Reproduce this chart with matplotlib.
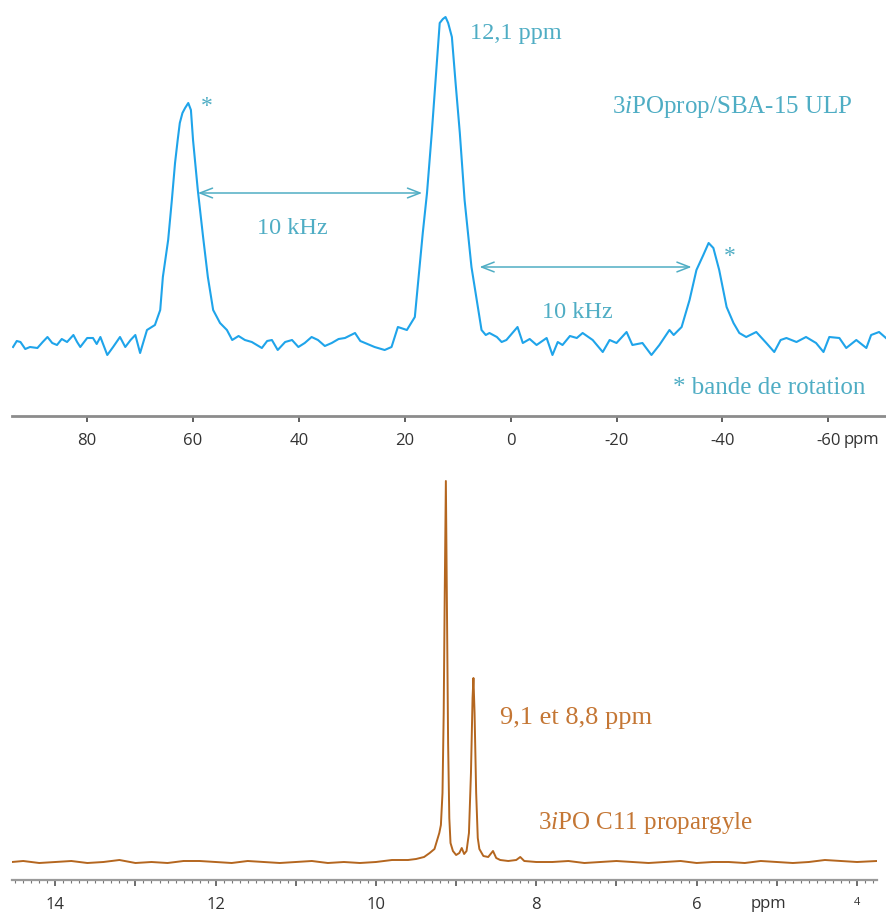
import matplotlib
matplotlib.use("Agg")
import matplotlib.pyplot as plt
from matplotlib.ticker import FixedLocator, MultipleLocator

# --- top spectrum (solid state 31P, 3iPOprop/SBA-15 ULP) ---
top_ppm = [94.0, 93.3, 92.6, 91.7, 90.8, 89.4, 88.4, 87.5, 86.6, 85.7, 84.8, 83.8,
           82.6, 81.9, 81.3, 80.0, 78.9, 78.2, 77.5, 76.2, 75.1, 73.8, 72.8, 71.8,
           70.9, 70.0, 68.7, 67.2, 66.2, 65.7, 64.7, 64.0, 63.4, 62.9, 62.5, 62.0,
           61.5, 60.9, 60.4, 60.0, 59.1, 58.1, 57.2, 56.2, 54.9, 53.6, 52.6, 51.4,
           50.2, 48.9, 47.0, 46.0, 45.1, 44.0, 42.6, 41.3, 40.1, 38.9, 37.6, 36.4,
           35.1, 33.8, 32.5, 31.3, 29.4, 28.4, 27.5, 25.7, 23.8, 22.5, 21.3, 19.6,
           18.1, 17.5, 16.6, 15.8, 14.9, 14.0, 13.4, 12.8, 12.3, 11.8, 11.1, 10.4,
           9.6, 8.7, 7.4, 6.4, 5.5, 4.7, 4.0, 2.6, 1.7, 0.8, -1.3, -2.3, -3.6,
           -4.9, -6.8, -7.9, -8.9, -9.8, -11.2, -12.5, -13.6, -15.5, -17.4, -18.7,
           -20.0, -21.9, -23.0, -24.9, -26.6, -28.1, -30.0, -30.8, -32.3, -33.8,
           -35.1, -36.4, -37.4, -38.3, -39.4, -40.8, -42.1, -43.2, -44.5, -46.4,
           -48.3, -49.8, -51.0, -52.1, -54.0, -55.8, -57.7, -59.1, -60.2, -62.1,
           -63.4, -65.3, -67.2, -68.1, -69.6, -70.9]
top_int = [-2, 4, 3, -4, -2, -3, 3, 8, 2, 0, 6, 3,
           10, 3, -2, 7, 7, 1, 8, -10, -2, 8, -2, 5,
           10, -8, 15, 20, 35, 68, 105, 145, 182, 205, 222, 232,
           237, 242, 235, 205, 155, 108, 68, 35, 22, 15, 5, 9,
           5, 3, -3, 4, 5, -5, 3, 5, -2, 2, 8, 5,
           -1, 2, 6, 7, 12, 4, 2, -2, -5, -2, 18, 15,
           28, 62, 112, 152, 212, 278, 322, 326, 328, 322, 308, 262,
           212, 145, 78, 45, 15, 10, 12, 8, 3, 5, 18, 2, 6,
           0, 7, -10, 3, 0, 9, 7, 12, 5, -7, 5,
           2, 13, 0, 2, -10, 0, 15, 10, 18, 45,
           75, 90, 102, 97, 75, 38, 22, 12, 8, 13,
           2, -7, 5, 7, 3, 8, 2, -7, 8, 7,
           -3, 5, -3, 10, 13, 7]
top_ticks = [80, 60, 40, 20, 0, -20, -40, -60]

# --- bottom spectrum (liquid 31P, 3iPO C11 propargyle) ---
bot_ppm = [14.54, 14.4, 14.2, 14.0, 13.8, 13.6, 13.4, 13.2, 13.0, 12.8, 12.6, 12.4,
           12.2, 12.0, 11.8, 11.6, 11.4, 11.2, 11.0, 10.8, 10.6, 10.4, 10.2, 10.0,
           9.8, 9.6, 9.5, 9.4, 9.33, 9.27, 9.24, 9.21, 9.19, 9.17, 9.155, 9.142,
           9.128, 9.115, 9.10, 9.085, 9.07, 9.04, 9.0, 8.96, 8.93, 8.90, 8.87,
           8.84, 8.815, 8.795, 8.784, 8.77, 8.75, 8.73, 8.71, 8.66, 8.6, 8.54,
           8.5, 8.45, 8.35, 8.25, 8.2, 8.15, 8.0, 7.8, 7.6, 7.4, 7.2, 7.0, 6.8,
           6.6, 6.4, 6.2, 6.0, 5.8, 5.6, 5.4, 5.2, 5.0, 4.8, 4.6, 4.4, 4.2, 4.0,
           3.75]
bot_int = [1, 2, 0, 1, 2, 0, 1, 3, 0, 1, 0, 2,
           2, 1, 0, 2, 1, 0, 1, 2, 0, 1, 0, 1,
           3, 3, 4, 6, 10, 14, 22, 30, 38, 70, 150, 270,
           382, 260, 120, 45, 20, 12, 8, 10, 15, 9, 12,
           30, 90, 165, 185, 150, 70, 25, 14, 7, 6, 12,
           5, 3, 2, 3, 6, 2, 1, 1, 2, 0, 1, 2, 1,
           0, 1, 2, 0, 1, 1, 0, 2, 1, 0, 1, 3, 2, 1,
           2]
bot_major = [14, 13, 12, 11, 10, 9, 8, 7, 6, 5, 4]
bot_labels = ["14", "", "12", "", "10", "", "8", "", "6", "", "4"]

blue = "#1fa4ea"
teal = "#4fadc4"
brown = "#b4661f"
brown_txt = "#c47634"
serif = "Liberation Serif"
plt.rcParams["mathtext.fontset"] = "custom"
plt.rcParams["mathtext.rm"] = "Liberation Serif"
plt.rcParams["mathtext.it"] = "Liberation Serif:italic"

fig = plt.figure(figsize=(8.87, 9.14), dpi=100)

# top panel
ax1 = fig.add_axes([12 / 887, 1 - 416 / 914, 875 / 887, 416 / 914])
ax1.plot(top_ppm, top_int, color=blue, lw=1.5)
ax1.set_xlim(94.2, -71.1)
ax1.set_ylim(-71, 345)
for s in ["top", "left", "right"]:
    ax1.spines[s].set_visible(False)
ax1.spines["bottom"].set_color("#8c8c8c")
ax1.spines["bottom"].set_linewidth(2.0)
ax1.set_yticks([])
ax1.xaxis.set_major_locator(FixedLocator(top_ticks))
ax1.set_xticklabels([str(t) for t in top_ticks], fontfamily="Open Sans", fontsize=12, color="#333333")
ax1.tick_params(axis="x", direction="out", length=4, width=1.2, color="#444444", pad=8)
ax1.annotate("ppm", xy=(-63.0, 0), xycoords=ax1.get_xaxis_transform(), xytext=(0, -11.5),
             textcoords="offset points", ha="left", va="top", fontfamily="Open Sans",
             fontsize=12, color="#333333")

ax1.text(58.5, 239, "*", color=teal, fontsize=17, fontfamily=serif, ha="left", va="center")
ax1.text(7.7, 312, "12,1 ppm", color=teal, fontsize=17.5, fontfamily=serif, ha="left", va="center")
ax1.text(-19.1, 238, "3$\\mathit{i}$POprop/SBA-15 ULP", color=teal, fontsize=18,
         fontfamily=serif, ha="left", va="center")
ax1.annotate("", xy=(16.2, 152), xytext=(59.6, 152),
             arrowprops=dict(arrowstyle="<->,head_length=0.9,head_width=0.35", color=teal, lw=1.1))
ax1.text(41.3, 117, "10 kHz", color=teal, fontsize=17.5, fontfamily=serif, ha="center", va="center")
ax1.annotate("", xy=(-34.7, 78), xytext=(6.4, 78),
             arrowprops=dict(arrowstyle="<->,head_length=0.9,head_width=0.35", color=teal, lw=1.1))
ax1.text(-12.6, 33, "10 kHz", color=teal, fontsize=17.5, fontfamily=serif, ha="center", va="center")
ax1.text(-40.3, 88, "*", color=teal, fontsize=17, fontfamily=serif, ha="left", va="center")
ax1.text(-30.6, -43, "* bande de rotation", color=teal, fontsize=18, fontfamily=serif,
         ha="left", va="center")

# bottom panel
ax2 = fig.add_axes([12 / 887, 1 - 880 / 914, 865 / 887, 420 / 914])
ax2.plot(bot_ppm, bot_int, color=brown, lw=1.4)
ax2.set_xlim(14.54, 3.75)
ax2.set_ylim(-17, 403)
for s in ["top", "left", "right"]:
    ax2.spines[s].set_visible(False)
ax2.spines["bottom"].set_color("#9a9a9a")
ax2.spines["bottom"].set_linewidth(1.6)
ax2.set_yticks([])
ax2.xaxis.set_major_locator(FixedLocator(bot_major))
ax2.xaxis.set_minor_locator(MultipleLocator(0.1))
ax2.set_xticklabels(bot_labels, fontfamily="Open Sans", fontsize=12, color="#333333")
ax2.get_xticklabels()[-1].set_fontsize(8)
ax2.tick_params(axis="x", which="major", direction="out", length=4, width=1.2, color="#555555", pad=8)
ax2.tick_params(axis="x", which="minor", direction="out", length=2.5, width=0.8, color="#777777")
ax2.annotate("ppm", xy=(5.1, 0), xycoords=ax2.get_xaxis_transform(), xytext=(0, -11.5),
             textcoords="offset points", ha="center", va="top", fontfamily="Open Sans",
             fontsize=12, color="#333333")

ax2.text(8.45, 145, "9,1 et 8,8 ppm", color=brown_txt, fontsize=19, fontfamily=serif,
         ha="left", va="center")
ax2.text(7.98, 40, "3$\\mathit{i}$PO C11 propargyle", color=brown_txt, fontsize=18,
         fontfamily=serif, ha="left", va="center")

fig.savefig("out.png", dpi=100)
